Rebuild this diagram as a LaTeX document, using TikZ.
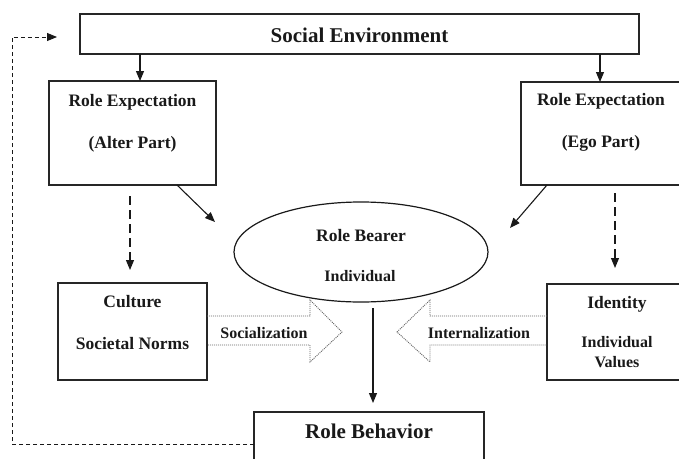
\documentclass[tikz,border=0pt]{standalone}
\usepackage{fontspec}
\setmainfont{Liberation Serif}
\usetikzlibrary{arrows.meta,shapes.geometric}
\begin{document}
\begin{tikzpicture}[x=1pt,y=-1pt,
  box/.style={draw=black!85,line width=1.2pt,inner sep=0pt,outer sep=0pt,rectangle},
  lbl/.style={anchor=base,inner sep=0pt,font=\bfseries\fontsize{17.5}{20}\selectfont,text=black!90},
  small/.style={anchor=base,inner sep=0pt,font=\bfseries\fontsize{16}{19}\selectfont,text=black!90},
  big/.style={anchor=base,inner sep=0pt,font=\bfseries\fontsize{21}{24}\selectfont,text=black!90},
  arr/.style={draw=black!90,line width=1.1pt,-{Triangle[length=10pt,width=8pt]}},
  darr/.style={arr,dash pattern=on 9pt off 5pt},
  blockarr/.style={draw=black!60,line width=0.9pt,dash pattern=on 1pt off 1pt}]
\useasboundingbox (0,0) rectangle (679,458);
\clip (0,0) rectangle (679,458);
% boxes
\node[box,minimum width=559,minimum height=40] (se) at (359.5,34) {};
\node[box,minimum width=167,minimum height=104] (alter) at (132.5,133) {};
\node[box,minimum width=160,minimum height=103] (ego) at (601,133.5) {};
\node[box,minimum width=149,minimum height=97] (cult) at (132.5,331.5) {};
\node[box,minimum width=140,minimum height=96] (ident) at (617,332) {};
\node[box,minimum width=230,minimum height=60] (rb) at (369,442) {};
\node[draw=black!90,line width=1.2pt,ellipse,inner sep=0pt,outer sep=0pt,minimum width=254,minimum height=100] (bearer) at (361,252) {};
% texts
\node[big] (tse) at (359.5,42) {Social Environment};
\node[lbl] (ta1) at (132.5,106) {Role Expectation};
\node[lbl] (ta2) at (132.5,148) {(Alter Part)};
\node[lbl] (te1) at (601,105) {Role Expectation};
\node[lbl] (te2) at (601,147) {(Ego Part)};
\node[lbl] (tc1) at (132.5,307) {Culture};
\node[lbl] (tc2) at (132.5,349) {Societal Norms};
\node[lbl] (ti1) at (617,308) {Identity};
\node[small] (ti2) at (617,347) {Individual};
\node[small] (ti3) at (617,367) {Values};
\node[lbl] (tb1) at (361,241) {Role Bearer};
\node[small] (tb2) at (360,281) {Individual};
\node[small] (tsoc) at (264,338) {Socialization};
\node[small] (tint) at (479,338) {Internalization};
\node[big] (trb) at (369,438) {Role Behavior};
% solid arrows
\draw[arr] ([xshift=7.5]alter.north |- se.south) -- ([xshift=7.5]alter.north);
\draw[arr] ([xshift=-1]ego.north |- se.south) -- ([xshift=-1]ego.north);
\coordinate (ae) at (215,222);
\coordinate (ee) at (510,228);
\draw[arr] ([xshift=44.5]alter.south) -- (ae);
\draw[arr] ([xshift=-54]ego.south) -- (ee);
\draw[arr] ([xshift=12,yshift=-6]bearer.south) -- ([xshift=4,yshift=9]rb.north);
% dashed arrows
\draw[darr] ([xshift=-2.5,yshift=-11]alter.south) -- ([xshift=-2.5,yshift=13]cult.north);
\draw[darr] ([xshift=14,yshift=-8]ego.south) -- ([xshift=-2,yshift=16]ident.north);
% feedback
\coordinate (fb) at (57,37);
\draw[draw=black!90,line width=1pt,dash pattern=on 4pt off 3pt,-{Triangle[length=10pt,width=8pt]}]
  ([yshift=-2]rb.west) -| (12,37) -- (fb);
% block arrows
\draw[blockarr] (cult.east |- 0,316) -- (310,316) -- (310,300) -- (342,332) -- (310,362) -- (310,345) -- (cult.east |- 0,345);
\draw[blockarr] (ident.west |- 0,316) -- (430,316) -- (430,300) -- (397,332) -- (430,362) -- (430,345) -- (ident.west |- 0,345);
\end{tikzpicture}
\end{document}
